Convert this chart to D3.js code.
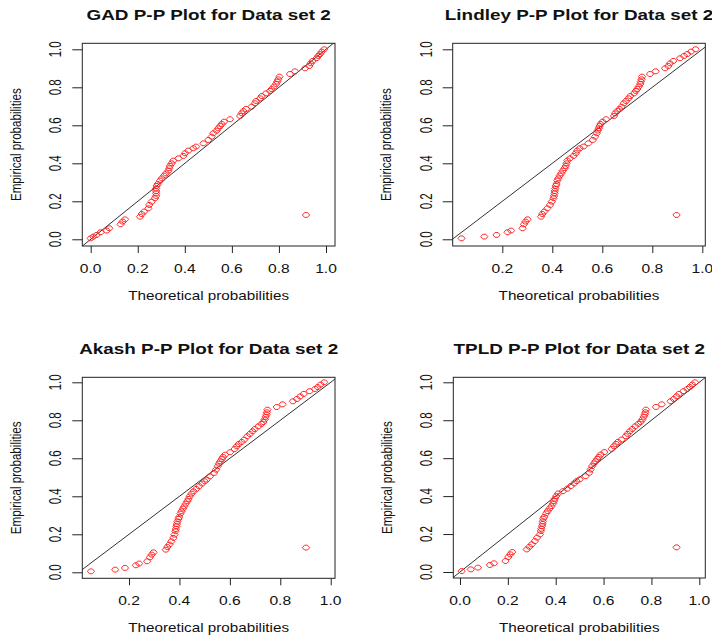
<!DOCTYPE html>
<html>
<head>
<meta charset="utf-8">
<script src="https://cdn.jsdelivr.net/npm/d3@7/dist/d3.min.js"></script>
<style>
html,body{margin:0;padding:0;background:#fff;}
svg text{font-family:"Liberation Sans",Arial,Helvetica,sans-serif;fill:#111;}
</style>
</head>
<body>
<svg id="chart" width="712" height="640"></svg>
<script>
// ---- data ----
const empirical = [0.005,0.014,0.023,0.037,0.046,0.058,0.079,0.093,0.105,0.119,
  0.133,0.146,0.163,0.181,0.198,0.216,0.228,0.242,0.254,0.267,
  0.281,0.291,0.309,0.321,0.335,0.347,0.361,0.374,0.386,0.4,
  0.414,0.426,0.439,0.453,0.467,0.479,0.488,0.505,0.523,0.54,
  0.558,0.572,0.584,0.596,0.607,0.619,0.632,0.649,0.663,0.675,
  0.686,0.698,0.716,0.728,0.742,0.754,0.768,0.781,0.791,0.804,
  0.818,0.83,0.842,0.856,0.87,0.884,0.9,0.912,0.926,0.939,
  0.953,0.965,0.975,0.988,1.0];
const gadX = [0,0.011,0.025,0.042,0.068,0.079,0.127,0.136,0.146,0.21,
  0.217,0.227,0.245,0.249,0.259,0.273,0.278,0.278,0.278,0.278,
  0.28,0.285,0.295,0.302,0.312,0.32,0.33,0.334,0.337,0.344,
  0.351,0.373,0.394,0.401,0.415,0.436,0.448,0.479,0.5,0.514,
  0.521,0.535,0.542,0.55,0.557,0.567,0.592,0.635,0.642,0.649,
  0.66,0.684,0.698,0.703,0.72,0.727,0.745,0.762,0.769,0.779,
  0.788,0.793,0.797,0.802,0.847,0.868,0.911,0.929,0.935,0.943,
  0.96,0.967,0.975,0.982,0.992];
const lindleyX = [0.037,0.128,0.177,0.221,0.235,0.281,0.287,0.293,0.301,0.355,
  0.36,0.368,0.38,0.391,0.398,0.405,0.407,0.409,0.41,0.412,
  0.414,0.417,0.42,0.424,0.43,0.436,0.442,0.449,0.454,0.457,
  0.46,0.471,0.485,0.494,0.5,0.51,0.525,0.544,0.562,0.571,
  0.578,0.582,0.586,0.589,0.593,0.601,0.615,0.647,0.651,0.66,
  0.669,0.677,0.686,0.695,0.705,0.712,0.727,0.734,0.74,0.746,
  0.752,0.754,0.757,0.759,0.791,0.813,0.851,0.864,0.871,0.884,
  0.911,0.927,0.94,0.955,0.973];
const akashX = [0.049,0.145,0.184,0.227,0.24,0.272,0.283,0.29,0.297,0.346,
  0.352,0.36,0.368,0.376,0.38,0.384,0.386,0.388,0.39,0.392,
  0.396,0.399,0.404,0.408,0.414,0.419,0.425,0.431,0.436,0.441,
  0.448,0.456,0.467,0.478,0.49,0.5,0.508,0.521,0.537,0.545,
  0.552,0.557,0.562,0.568,0.573,0.581,0.601,0.619,0.627,0.635,
  0.647,0.657,0.669,0.679,0.69,0.699,0.713,0.725,0.733,0.738,
  0.742,0.745,0.747,0.749,0.786,0.809,0.85,0.866,0.879,0.893,
  0.916,0.938,0.948,0.96,0.974];
const tpldX = [0.007,0.045,0.075,0.125,0.142,0.19,0.202,0.21,0.218,0.279,
  0.29,0.3,0.313,0.322,0.334,0.338,0.34,0.343,0.345,0.346,
  0.348,0.352,0.36,0.366,0.375,0.382,0.389,0.393,0.396,0.402,
  0.41,0.43,0.448,0.463,0.477,0.487,0.5,0.525,0.54,0.546,
  0.552,0.56,0.566,0.574,0.58,0.588,0.603,0.634,0.643,0.652,
  0.66,0.675,0.693,0.7,0.71,0.72,0.732,0.745,0.755,0.762,
  0.768,0.772,0.775,0.777,0.819,0.843,0.88,0.893,0.905,0.915,
  0.933,0.95,0.96,0.971,0.982];
const outlierX = [0.915,0.897,0.902,0.905];
const outlierY = [0.128,0.128,0.13,0.13];
const titles = ["GAD P-P Plot for Data set 2","Lindley P-P Plot for Data set 2",
  "Akash P-P Plot for Data set 2","TPLD P-P Plot for Data set 2"];
const xDomains = [[-0.0357,1.0382],[0.0016,1.012],[0.0147,1.017],[-0.028,1.0251]];
const yDomains = [[-0.0353,1.0316],[-0.0353,1.0316],[-0.0316,1.0263],[-0.0316,1.0263]];
const tickVals = [0,0.2,0.4,0.6,0.8,1.0];
const xLabel = "Theoretical probabilities";
const yLabel = "Empirical probabilities";

// ---- layout ----
const boxes = [
  {l:82.3,t:43.3,r:335,b:246},
  {l:452.7,t:43.3,r:705.3,b:246},
  {l:82.3,t:377.3,r:335,b:578.3},
  {l:453.3,t:377.3,r:705.3,b:578}
];
const theo = [gadX,lindleyX,akashX,tpldX];
const SX = 1.3;
const marker = "M-3.6,0L-1.5,-2.4L1.5,-2.4L3.6,0L1.5,2.4L-1.5,2.4Z";

const svg = d3.select("#chart");
const defs = svg.append("defs");

boxes.forEach((B,i)=>{
  const x = d3.scaleLinear().domain(xDomains[i]).range([B.l,B.r]);
  const y = d3.scaleLinear().domain(yDomains[i]).range([B.b,B.t]);
  const g = svg.append("g");
  const cid = "clip"+i;
  defs.append("clipPath").attr("id",cid).append("rect")
    .attr("x",B.l).attr("y",B.t).attr("width",B.r-B.l).attr("height",B.b-B.t);

  // diagonal y = x
  const d0 = Math.min(xDomains[i][0],yDomains[i][0]);
  const d1 = Math.max(xDomains[i][1],yDomains[i][1]);
  g.append("line").attr("clip-path",`url(#${cid})`)
    .attr("x1",x(d0)).attr("y1",y(d0)).attr("x2",x(d1)).attr("y2",y(d1))
    .attr("stroke","#333").attr("stroke-width",1);

  // points
  const pts = empirical.map((e,k)=>({x:theo[i][k],y:e}));
  pts.push({x:outlierX[i],y:outlierY[i]});
  g.selectAll("path.pt").data(pts).enter().append("path").attr("class","pt")
    .attr("transform",d=>`translate(${x(d.x)},${y(d.y)})`)
    .attr("d",marker)
    .attr("fill","none").attr("stroke","#ff1a1a").attr("stroke-width",0.9);

  // box
  g.append("rect").attr("x",B.l).attr("y",B.t).attr("width",B.r-B.l).attr("height",B.b-B.t)
    .attr("fill","none").attr("stroke","#222").attr("stroke-width",1);

  // x axis
  const xt = tickVals.filter(v=>v>=xDomains[i][0]&&v<=xDomains[i][1]);
  const xa = g.append("g").attr("transform",`translate(0,${B.b})`)
    .call(d3.axisBottom(x).tickValues(xt).tickSize(7).tickSizeOuter(0).tickFormat(d3.format(".1f")));
  xa.select(".domain").remove();
  xa.selectAll(".tick line").attr("stroke","#222");
  xa.selectAll(".tick text").remove();
  xt.forEach(v=>{
    g.append("text").attr("transform",`translate(${x(v)},${B.b+26.7}) scale(${SX},1)`)
      .attr("text-anchor","middle").attr("font-size",12).text(d3.format(".1f")(v));
  });

  // y axis
  const yt = tickVals.filter(v=>v>=yDomains[i][0]&&v<=yDomains[i][1]);
  const ya = g.append("g").attr("transform",`translate(${B.l},0)`)
    .call(d3.axisLeft(y).tickValues(yt).tickSize(10).tickSizeOuter(0));
  ya.select(".domain").remove();
  ya.selectAll(".tick line").attr("stroke","#222");
  ya.selectAll(".tick text").remove();
  yt.forEach(v=>{
    g.append("text").attr("transform",`translate(${B.l-21},${y(v)}) scale(1.4,1) rotate(-90)`)
      .attr("text-anchor","middle").attr("font-size",11.5).text(d3.format(".1f")(v));
  });

  // titles
  const cx = (B.l+B.r)/2;
  g.append("text").attr("transform",`translate(${cx},${B.t-23.3}) scale(1.35,1)`)
    .attr("text-anchor","middle").attr("font-size",14).attr("font-weight","bold").text(titles[i]);
  g.append("text").attr("transform",`translate(${cx},${B.b+53.5}) scale(1.27,1)`)
    .attr("text-anchor","middle").attr("font-size",12).text(xLabel);
  g.append("text").attr("transform",`translate(${B.l-61.5},${(B.t+B.b)/2}) scale(1.25,1) rotate(-90)`)
    .attr("text-anchor","middle").attr("font-size",11.6).text(yLabel);
});
</script>
</body>
</html>
